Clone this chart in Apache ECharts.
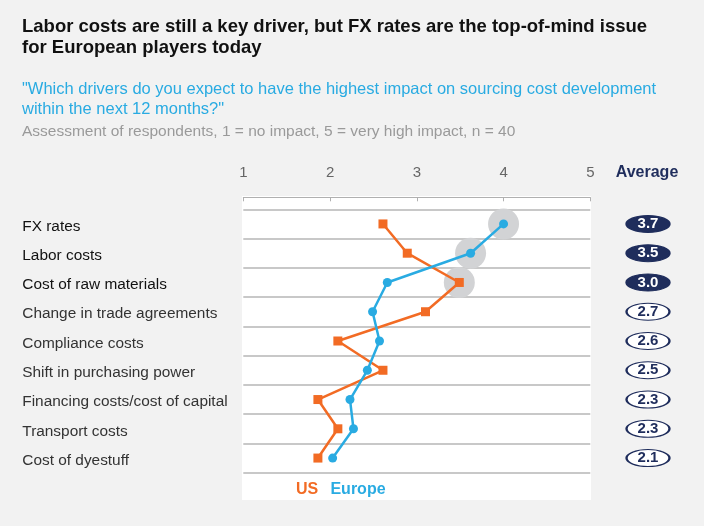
<!DOCTYPE html>
<html>
<head>
<meta charset="utf-8">
<script src="https://cdn.jsdelivr.net/npm/echarts@6/dist/echarts.min.js"></script>
<style>html,body{margin:0;padding:0;background:#f2f2f2}#c{width:704px;height:526px}</style>
</head>
<body>
<div id="c"></div>
<script>
var categories = ['FX rates','Labor costs','Cost of raw materials','Change in trade agreements','Compliance costs','Shift in purchasing power','Financing costs/cost of capital','Transport costs','Cost of dyestuff'];
var usValues = [2.61, 2.89, 3.49, 3.10, 2.09, 2.61, 1.86, 2.09, 1.86];
var europeValues = [4.00, 3.62, 2.66, 2.49, 2.57, 2.43, 2.23, 2.27, 2.03];
var averages = [3.7, 3.5, 3.0, 2.7, 2.6, 2.5, 2.3, 2.3, 2.1];
var xTicks = [1, 2, 3, 4, 5];
var topCount = 3;

var FONT = '"Liberation Sans", Arial, Helvetica, sans-serif';
var ORANGE = '#f26b24', BLUE = '#29abe2', NAVY = '#1f2d5c';

var highlight = [];
for (var i = 0; i < topCount; i++) {
  highlight.push([Math.max(usValues[i], europeValues[i]), i]);
}
var badgeData = averages.map(function (v, i) {
  var top = i < topCount;
  return {
    value: [0.5, i, v],
    itemStyle: { color: top ? NAVY : '#ffffff', borderColor: NAVY, borderWidth: 1.5, opacity: 1 },
    label: { color: top ? '#ffffff' : NAVY }
  };
});

var chart = echarts.init(document.getElementById('c'));
chart.setOption({
  backgroundColor: '#f2f2f2',
  animation: false,
  textStyle: { fontFamily: FONT },
  graphic: [
    { type: 'rect', z: -100, shape: { x: 242, y: 196, width: 349, height: 304 }, style: { fill: '#ffffff' } },
    { type: 'text', left: 22, top: 17, style: { text: 'Labor costs are still a key driver, but FX rates are the top-of-mind issue\nfor European players today', font: 'bold 18.5px ' + FONT, fill: '#111111', lineHeight: 20.5 } },
    { type: 'text', left: 22, top: 79, style: { text: '"Which drivers do you expect to have the highest impact on sourcing cost development\nwithin the next 12 months?"', font: '16.5px ' + FONT, fill: BLUE, lineHeight: 20 } },
    { type: 'text', left: 22, top: 124, style: { text: 'Assessment of respondents, 1 = no impact, 5 = very high impact, n = 40', font: '15.5px ' + FONT, fill: '#9a9a9a' } },
    { type: 'text', x: 647, y: 173, style: { text: 'Average', font: 'bold 16px ' + FONT, fill: NAVY, align: 'center', verticalAlign: 'middle' } },
    { type: 'text', x: 307, y: 490, style: { text: 'US', font: 'bold 16px ' + FONT, fill: ORANGE, align: 'center', verticalAlign: 'middle' } },
    { type: 'text', x: 358, y: 490, style: { text: 'Europe', font: 'bold 16px ' + FONT, fill: BLUE, align: 'center', verticalAlign: 'middle' } }
  ],
  grid: [
    { left: 243.3, width: 347, top: 209.3, height: 263.4 },
    { left: 626, width: 44, top: 209.3, height: 263.4 }
  ],
  xAxis: [
    {
      gridIndex: 0, type: 'value', min: xTicks[0], max: xTicks[xTicks.length - 1], interval: 1,
      position: 'top', offset: 12,
      axisLine: { show: true, lineStyle: { color: '#b0b0b0', width: 1 } },
      axisTick: { show: true, inside: true, length: 4, lineStyle: { color: '#b0b0b0' } },
      axisLabel: { color: '#666666', fontSize: 15, margin: 17, fontFamily: FONT },
      splitLine: { show: false }
    },
    { gridIndex: 1, type: 'value', min: 0, max: 1, show: false }
  ],
  yAxis: [
    {
      gridIndex: 0, type: 'category', data: categories, inverse: true, boundaryGap: true,
      axisLine: { show: false }, axisTick: { show: false },
      splitLine: { show: true, lineStyle: { color: '#c8c8c8', width: 2 } },
      axisLabel: {
        margin: 221, align: 'left', fontFamily: FONT,
        formatter: function (v, i) { return i < topCount ? '{t|' + v + '}' : '{n|' + v + '}'; },
        rich: {
          t: { fontSize: 15.4, color: '#111111', fontFamily: FONT, padding: [5, 0, 0, 0] },
          n: { fontSize: 15.4, color: '#333333', fontFamily: FONT, padding: [5, 0, 0, 0] }
        }
      }
    },
    { gridIndex: 1, type: 'category', data: categories, inverse: true, show: false }
  ],
  series: [
    {
      type: 'scatter', xAxisIndex: 0, yAxisIndex: 0, data: highlight, symbolSize: 31, z: 1,
      itemStyle: { color: '#d2d3d5', opacity: 1 }, silent: true
    },
    {
      name: 'US', type: 'line', xAxisIndex: 0, yAxisIndex: 0, z: 3,
      data: usValues.map(function (v, i) { return [v, i]; }),
      symbol: 'rect', symbolSize: 9, showAllSymbol: true,
      lineStyle: { color: ORANGE, width: 2.5 }, itemStyle: { color: ORANGE }
    },
    {
      name: 'Europe', type: 'line', xAxisIndex: 0, yAxisIndex: 0, z: 4,
      data: europeValues.map(function (v, i) { return [v, i]; }),
      symbol: 'circle', symbolSize: 9, showAllSymbol: true,
      lineStyle: { color: BLUE, width: 2.5 }, itemStyle: { color: BLUE }
    },
    {
      type: 'scatter', xAxisIndex: 1, yAxisIndex: 1, data: badgeData,
      symbol: 'circle', symbolSize: [43, 17],
      label: {
        show: true, position: 'inside', fontSize: 15, fontWeight: 'bold', fontFamily: FONT,
        formatter: function (p) { return p.value[2].toFixed(1); }
      }
    }
  ]
});
</script>
</body>
</html>
